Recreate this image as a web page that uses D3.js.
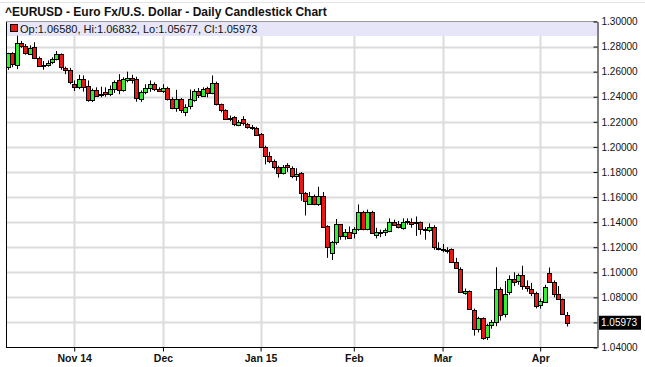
<!DOCTYPE html>
<html><head><meta charset="utf-8">
<script src="https://cdn.jsdelivr.net/npm/d3@7"></script>
<style>
body{margin:0;background:#fff}
svg{display:block}
text{font-family:Arial,"Liberation Sans",sans-serif}
</style>
</head><body>
<svg id="c" width="645" height="367"></svg>
<script>
const title = "^EURUSD - Euro Fx/U.S. Dollar - Daily Candlestick Chart";
const legendText = "Op:1.06580, Hi:1.06832, Lo:1.05677, Cl:1.05973";

const dates = [
"2014-10-13","2014-10-14","2014-10-15","2014-10-16","2014-10-17","2014-10-20","2014-10-21","2014-10-22","2014-10-23","2014-10-24","2014-10-27","2014-10-28","2014-10-29","2014-10-30","2014-10-31",
"2014-11-03","2014-11-04","2014-11-05","2014-11-06","2014-11-07","2014-11-10","2014-11-11","2014-11-12","2014-11-13","2014-11-14","2014-11-17","2014-11-18","2014-11-19","2014-11-20","2014-11-21","2014-11-24","2014-11-25","2014-11-26","2014-11-27","2014-11-28",
"2014-12-01","2014-12-02","2014-12-03","2014-12-04","2014-12-05","2014-12-08","2014-12-09","2014-12-10","2014-12-11","2014-12-12","2014-12-15","2014-12-16","2014-12-17","2014-12-18","2014-12-19","2014-12-22","2014-12-23","2014-12-24","2014-12-26","2014-12-29","2014-12-30","2014-12-31",
"2015-01-02","2015-01-05","2015-01-06","2015-01-07","2015-01-08","2015-01-09","2015-01-12","2015-01-13","2015-01-14","2015-01-15","2015-01-16","2015-01-19","2015-01-20","2015-01-21","2015-01-22","2015-01-23","2015-01-26","2015-01-27","2015-01-28","2015-01-29","2015-01-30",
"2015-02-02","2015-02-03","2015-02-04","2015-02-05","2015-02-06","2015-02-09","2015-02-10","2015-02-11","2015-02-12","2015-02-13","2015-02-16","2015-02-17","2015-02-18","2015-02-19","2015-02-20","2015-02-23","2015-02-24","2015-02-25","2015-02-26","2015-02-27",
"2015-03-02","2015-03-03","2015-03-04","2015-03-05","2015-03-06","2015-03-09","2015-03-10","2015-03-11","2015-03-12","2015-03-13","2015-03-16","2015-03-17","2015-03-18","2015-03-19","2015-03-20","2015-03-23","2015-03-24","2015-03-25","2015-03-26","2015-03-27","2015-03-30","2015-03-31",
"2015-04-01","2015-04-02","2015-04-06","2015-04-07","2015-04-08","2015-04-09","2015-04-10"];

const openV = [
1.2630,1.2745,1.2655,1.2832,1.2808,1.2748,1.2796,1.2710,1.2650,1.2654,1.2672,1.2697,1.2737,1.2630,1.2612,
1.2505,1.2482,1.2545,1.2485,1.2375,1.2455,1.2410,1.2440,1.2425,1.2465,1.2530,1.2450,1.2538,1.2552,1.2540,1.2388,1.2440,1.2472,1.2503,1.2463,
1.2450,1.2470,1.2384,1.2312,1.2380,1.2280,1.2320,1.2375,1.2444,1.2410,1.2470,1.2432,1.2511,1.2340,1.2293,1.2225,1.2237,1.2175,1.2222,1.2180,1.2160,1.2152,
1.2105,1.2001,1.1926,1.1886,1.1841,1.1793,1.1852,1.1833,1.1772,1.1793,1.1634,1.1549,1.1611,1.1549,1.1612,1.1368,1.1155,1.1240,1.1381,1.1288,1.1320,
1.1315,1.1347,1.1479,1.1347,1.1479,1.1295,1.1320,1.1318,1.1330,1.1404,1.1385,1.1358,1.1405,1.1400,1.1400,1.1399,1.1342,1.1337,1.1363,1.1195,
1.1187,1.1180,1.1182,1.1081,1.1028,1.0831,1.0849,1.0703,1.0549,1.0636,1.0478,1.0576,1.0602,1.0868,1.0664,1.0841,1.0948,1.0927,1.0975,1.0889,1.0870,1.0836,
1.0735,1.0762,1.0996,1.0921,1.0823,1.0783,1.06580];

const highV = [
1.2750,1.2755,1.2887,1.2845,1.2820,1.2810,1.2835,1.2720,1.2685,1.2690,1.2715,1.2765,1.2745,1.2640,1.2630,
1.2530,1.2575,1.2570,1.2530,1.2465,1.2475,1.2480,1.2475,1.2490,1.2530,1.2580,1.2555,1.2600,1.2575,1.2560,1.2450,1.2500,1.2530,1.2515,1.2475,
1.2500,1.2480,1.2395,1.2455,1.2390,1.2340,1.2458,1.2460,1.2470,1.2475,1.2480,1.2570,1.2520,1.2345,1.2300,1.2250,1.2245,1.2215,1.2245,1.2190,1.2175,1.2160,
1.2110,1.2010,1.1960,1.1900,1.1850,1.1855,1.1870,1.1845,1.1830,1.1800,1.1640,1.1640,1.1620,1.1682,1.1640,1.1375,1.1250,1.1425,1.1385,1.1345,1.1365,
1.1360,1.1541,1.1490,1.1500,1.1490,1.1355,1.1340,1.1350,1.1430,1.1420,1.1410,1.1430,1.1430,1.1430,1.1445,1.1405,1.1360,1.1390,1.1375,1.1240,
1.1225,1.1200,1.1190,1.1115,1.1040,1.0870,1.0855,1.0710,1.0645,1.0640,1.0590,1.0620,1.1040,1.0880,1.0930,1.0975,1.1000,1.0990,1.1052,1.0935,1.0915,1.0845,
1.0790,1.0900,1.1038,1.0935,1.0890,1.0790,1.06832];

const lowV = [
1.2615,1.2635,1.2620,1.2790,1.2735,1.2735,1.2700,1.2640,1.2615,1.2640,1.2660,1.2690,1.2615,1.2580,1.2500,
1.2445,1.2460,1.2440,1.2360,1.2358,1.2400,1.2395,1.2400,1.2405,1.2430,1.2420,1.2440,1.2515,1.2505,1.2360,1.2359,1.2420,1.2440,1.2445,1.2440,
1.2430,1.2370,1.2300,1.2280,1.2270,1.2245,1.2300,1.2360,1.2390,1.2400,1.2395,1.2420,1.2330,1.2275,1.2215,1.2205,1.2165,1.2165,1.2170,1.2145,1.2135,1.2090,
1.1995,1.1860,1.1870,1.1820,1.1755,1.1780,1.1800,1.1750,1.1730,1.1570,1.1453,1.1540,1.1535,1.1530,1.1360,1.1115,1.1098,1.1220,1.1260,1.1260,1.1270,
1.1270,1.1330,1.1335,1.1335,1.1310,1.1270,1.1280,1.1290,1.1320,1.1370,1.1350,1.1340,1.1380,1.1355,1.1290,1.1300,1.1260,1.1320,1.1180,1.1175,
1.1160,1.1150,1.1075,1.1030,1.0840,1.0820,1.0700,1.0495,1.0520,1.0462,1.0460,1.0550,1.0570,1.0615,1.0640,1.0820,1.0890,1.0900,1.0860,1.0845,1.0810,1.0712,
1.0710,1.0755,1.0915,1.0800,1.0780,1.0660,1.05677];

const closeV = [
1.2745,1.2655,1.2832,1.2808,1.2755,1.2792,1.2710,1.2650,1.2654,1.2672,1.2697,1.2737,1.2630,1.2612,1.2518,
1.2482,1.2545,1.2485,1.2375,1.2455,1.2410,1.2420,1.2425,1.2465,1.2520,1.2450,1.2538,1.2552,1.2540,1.2392,1.2440,1.2472,1.2503,1.2463,1.2450,
1.2470,1.2384,1.2312,1.2380,1.2290,1.2320,1.2378,1.2444,1.2410,1.2463,1.2432,1.2511,1.2346,1.2293,1.2225,1.2230,1.2181,1.2197,1.2187,1.2160,1.2155,1.2100,
1.2001,1.1931,1.1886,1.1841,1.1793,1.1841,1.1833,1.1772,1.1786,1.1634,1.1567,1.1611,1.1549,1.1611,1.1368,1.1203,1.1240,1.1381,1.1288,1.1320,1.1275,
1.1347,1.1479,1.1347,1.1479,1.1315,1.1320,1.1312,1.1335,1.1399,1.1381,1.1358,1.1404,1.1400,1.1385,1.1395,1.1342,1.1337,1.1363,1.1200,1.1185,
1.1178,1.1177,1.1081,1.1036,1.0842,1.0849,1.0703,1.0549,1.0636,1.0478,1.0576,1.0602,1.0868,1.0664,1.0823,1.0948,1.0927,1.0975,1.0889,1.0870,1.0836,1.0735,
1.0770,1.0884,1.0921,1.0823,1.0783,1.0664,1.05973];

const priceTicks = [1.30,1.28,1.26,1.24,1.22,1.20,1.18,1.16,1.14,1.12,1.10,1.08,1.06,1.04];
const monthTickDates = ["2014-11-03","2014-12-01","2015-01-02","2015-02-02","2015-03-02","2015-04-01"];
const monthTickLabels = ["Nov 14","Dec","Jan 15","Feb","Mar","Apr"];

const upColor = "#33ee33", downColor = "#ee1515";

const L = 6, R = 597, T = 21.5, B = 347.5, bandH = 14.5;
const svg = d3.select("#c");

const x = d3.scaleLinear().domain([-0.37, 132.8]).range([L, R]);
const y = d3.scaleLinear().domain([1.04, 1.30]).range([B, T]);
const idx = d3.range(dates.length);
const crisp = v => Math.round(v) + 0.5;

// Title
svg.append("text").attr("x", 5).attr("y", 16).attr("font-size", 12).attr("font-weight", "bold")
  .attr("fill", "#111").text(title);
svg.append("line").attr("x1", 0).attr("x2", 645).attr("y1", 2.5).attr("y2", 2.5).attr("stroke", "#e4e4e4");

// horizontal gridlines
svg.append("g").selectAll("line").data(priceTicks.filter(p => p > 1.04 && p < 1.30)).join("line")
  .attr("x1", L).attr("x2", R).attr("y1", d => crisp(y(d))).attr("y2", d => crisp(y(d)))
  .attr("stroke", "#dcdcdc").attr("stroke-width", 2);

// vertical gridlines
const tickIdx = monthTickDates.map(d => dates.indexOf(d));
svg.append("g").selectAll("line").data(tickIdx).join("line")
  .attr("x1", d => crisp(x(d))).attr("x2", d => crisp(x(d)))
  .attr("y1", T + bandH).attr("y2", B)
  .attr("stroke", "#dcdcdc").attr("stroke-width", 2);

// legend band
svg.append("rect").attr("x", L).attr("y", T).attr("width", R - L).attr("height", bandH)
  .attr("fill", "#e6e6f8");
svg.append("rect").attr("x", 10.5).attr("y", 24.5).attr("width", 7).attr("height", 7)
  .attr("fill", downColor).attr("stroke", "#000");
svg.append("text").attr("x", 20).attr("y", 33).attr("font-size", 11).attr("fill", "#111").text(legendText);

// candles
const cg = svg.append("g");
cg.selectAll("line").data(idx).join("line")
  .attr("x1", i => crisp(x(i))).attr("x2", i => crisp(x(i)))
  .attr("y1", i => y(highV[i])).attr("y2", i => y(lowV[i]))
  .attr("stroke", "#000").attr("stroke-width", 1);
cg.selectAll("rect").data(idx).join("rect")
  .attr("x", i => Math.round(x(i)) - 1.5)
  .attr("width", 4)
  .attr("y", i => Math.round(y(Math.max(openV[i], closeV[i]))) + 0.5)
  .attr("height", i => Math.max(1, Math.round(Math.abs(y(openV[i]) - y(closeV[i])))))
  .attr("fill", i => closeV[i] >= openV[i] ? upColor : downColor)
  .attr("stroke", "#000").attr("stroke-width", 1);

// borders
svg.append("line").attr("x1", L + 0.5).attr("x2", L + 0.5).attr("y1", T).attr("y2", B).attr("stroke", "#000");
svg.append("line").attr("x1", L).attr("x2", R).attr("y1", B).attr("y2", B).attr("stroke", "#000");
svg.append("line").attr("x1", L).attr("x2", R).attr("y1", T).attr("y2", T).attr("stroke", "#999");

// right axis
const ay = d3.axisRight(y).tickValues(priceTicks).tickFormat(d3.format(".5f"))
  .tickSizeInner(-4).tickSizeOuter(0).tickPadding(4);
const gy = svg.append("g").attr("transform", `translate(${R + 0.5},0)`).call(ay);
gy.select(".domain").attr("stroke", "#000");
gy.selectAll("text").attr("font-size", 10).attr("font-family", "Arial, 'Liberation Sans', sans-serif").attr("fill", "#111");

// last price tag
const lastC = closeV[closeV.length - 1];
svg.append("rect").attr("x", R + 2).attr("y", y(lastC) - 7).attr("width", 42).attr("height", 14).attr("fill", "#000");
svg.append("text").attr("x", R + 4).attr("y", y(lastC)).attr("dy", "0.32em").attr("font-size", 10)
  .attr("fill", "#fff").text(d3.format(".5f")(lastC));

// bottom axis
const ax = d3.axisBottom(x).tickValues(tickIdx).tickFormat((d, k) => monthTickLabels[k])
  .tickSizeInner(4).tickSizeOuter(0).tickPadding(3);
const gx = svg.append("g").attr("transform", `translate(0,${B})`).call(ax);
gx.select(".domain").remove();
gx.selectAll(".tick line").attr("stroke", "#000");
gx.selectAll("text").attr("font-size", 10.5).attr("font-weight", "bold")
  .attr("font-family", "Arial, 'Liberation Sans', sans-serif").attr("fill", "#111");
</script>
</body></html>
